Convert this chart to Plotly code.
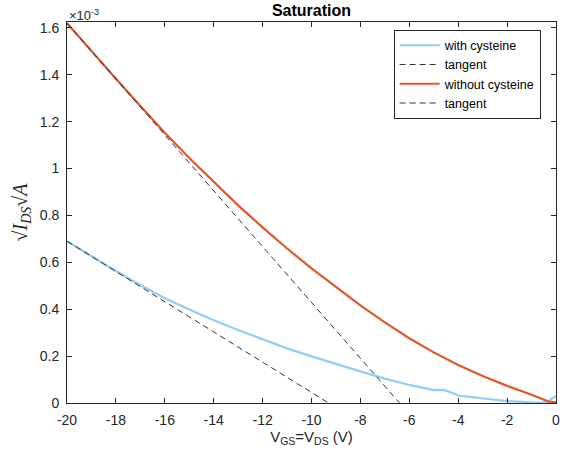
import plotly.graph_objects as go

# Data (values in A^0.5 units)
vgs_without = [-20, -19, -18, -17, -16, -15, -14, -13, -12, -11, -10, -9, -8, -7, -6, -5, -4, -3, -2, -1, -0.3, 0]
sq_without = [1.62e-3, 1.50e-3, 1.383e-3, 1.267e-3, 1.153e-3, 1.045e-3, 0.942e-3, 0.843e-3, 0.749e-3, 0.659e-3,
              0.574e-3, 0.493e-3, 0.416e-3, 0.344e-3, 0.276e-3, 0.216e-3, 0.162e-3, 0.115e-3, 0.073e-3, 0.035e-3,
              0.006e-3, 0.003e-3]

vgs_with = [-20, -19, -18, -17, -16, -15, -14, -13, -12, -11, -10, -9, -8, -7, -6, -5, -4.6, -4.2, -4, -3, -2, -1, -0.4, 0]
sq_with = [0.69e-3, 0.626e-3, 0.563e-3, 0.503e-3, 0.447e-3, 0.399e-3, 0.353e-3, 0.311e-3, 0.271e-3, 0.233e-3,
           0.199e-3, 0.166e-3, 0.135e-3, 0.104e-3, 0.077e-3, 0.055e-3, 0.056e-3, 0.042e-3, 0.032e-3, 0.02e-3,
           0.008e-3, 0.003e-3, 0.002e-3, 0.03e-3]

tangent_with_x = [-20, -9.3]
tangent_with_y = [0.69e-3, 0.0]
tangent_without_x = [-20, -6.4]
tangent_without_y = [1.62e-3, 0.0]

xticks = [-20, -18, -16, -14, -12, -10, -8, -6, -4, -2, 0]
xticklabels = ["-20", "-18", "-16", "-14", "-12", "-10", "-8", "-6", "-4", "-2", "0"]
yticks = [0, 0.2e-3, 0.4e-3, 0.6e-3, 0.8e-3, 1.0e-3, 1.2e-3, 1.4e-3, 1.6e-3]
yticklabels = ["0", "0.2", "0.4", "0.6", "0.8", "1", "1.2", "1.4", "1.6"]

blue = "#92cdf7"
orange = "#e0572a"
dash_col = "#333333"

fig = go.Figure()
fig.add_trace(go.Scatter(x=vgs_with, y=sq_with, mode="lines", name="with cysteine",
                         line=dict(color=blue, width=2.2)))
fig.add_trace(go.Scatter(x=tangent_with_x, y=tangent_with_y, mode="lines", name="tangent",
                         line=dict(color=dash_col, width=1, dash="6px,4px")))
fig.add_trace(go.Scatter(x=vgs_without, y=sq_without, mode="lines", name="without cysteine",
                         line=dict(color=orange, width=2.2)))
fig.add_trace(go.Scatter(x=tangent_without_x, y=tangent_without_y, mode="lines", name="tangent",
                         line=dict(color=dash_col, width=1, dash="6px,4px")))

axcol = "#262626"
fig.update_layout(
    width=574, height=462,
    margin=dict(l=67, r=18, t=22, b=59),
    plot_bgcolor="white", paper_bgcolor="white",
    font=dict(family="Liberation Sans, Arial", size=14, color=axcol),
    title=dict(text="<b>Saturation</b>", x=0.5, xref="paper", xanchor="center", y=0.99, yanchor="top",
               font=dict(size=16, color="#000000")),
    showlegend=True,
    legend=dict(x=0.668, y=0.98, xanchor="left", yanchor="top",
                bgcolor="white", bordercolor=axcol, borderwidth=1,
                font=dict(size=12.5, color="#000000"), tracegroupgap=0,
                itemwidth=40),
    xaxis=dict(range=[-20, 0], tickvals=xticks, ticktext=xticklabels, ticks="inside", ticklen=5,
               showline=True, mirror="ticks", linecolor=axcol, linewidth=1,
               tickcolor=axcol, showgrid=False, zeroline=False, ticklabelstandoff=4,
               title=dict(text="V<sub>GS</sub>=V<sub>DS</sub> (V)", font=dict(size=15), standoff=4)),
    yaxis=dict(range=[0, 1.625e-3], tickvals=yticks, ticktext=yticklabels, ticks="inside", ticklen=5,
               showline=True, mirror="ticks", linecolor=axcol, linewidth=1,
               tickcolor=axcol, showgrid=False, zeroline=False, ticklabelstandoff=4,
               title=dict(text="√<i>I<sub>DS</sub></i>√<i>A</i>",
                          font=dict(family="Liberation Serif, Times New Roman", size=20), standoff=6)),
)
fig.add_annotation(x=0, y=1.0, xref="paper", yref="paper", xanchor="left", yanchor="bottom",
                   text="×10<sup>-3</sup>", showarrow=False, font=dict(size=13, color=axcol), yshift=-3)

fig.write_html("out.html")
